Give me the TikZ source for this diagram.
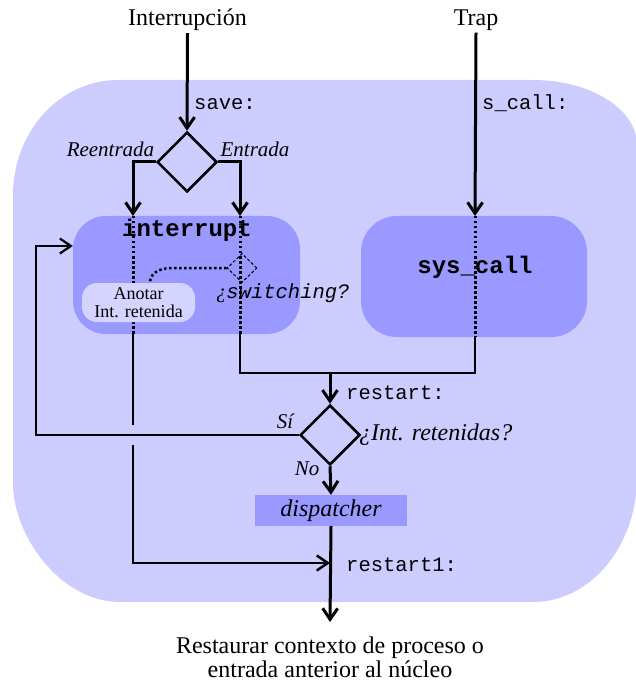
\documentclass[tikz,border=0pt]{standalone}
\usepackage{fontspec}
\setmainfont{Liberation Serif}
\setmonofont{Liberation Mono}
\usetikzlibrary{arrows.meta,shapes.geometric}
\definecolor{bgc}{HTML}{CCCCFF}
\definecolor{boxc}{HTML}{9999FF}
\definecolor{notec}{HTML}{D4D4FF}
\tikzset{
  lab/.style={font=\fontsize{24}{25}\selectfont, inner sep=2pt},
  code/.style={font=\ttfamily\fontsize{20.5}{22}\selectfont, anchor=west, inner sep=0pt},
  tag/.style={font=\itshape\fontsize{21}{22}\selectfont, inner sep=0pt},
  block/.style={fill=boxc, inner sep=0pt, rounded corners=33pt},
  boxtxt/.style={font=\ttfamily\bfseries\fontsize{24}{26}\selectfont, inner sep=0pt},
  dec/.style={diamond, draw, line width=2.5pt, minimum width=60pt, minimum height=60pt, inner sep=0pt},
  flow/.style={line width=3pt, -{Straight Barb[length=11pt,width=15pt]}},
  wire/.style={line width=2.5pt},
  dotwire/.style={line width=3pt, dash pattern=on 2.5pt off 2.5pt}
}
\begin{document}
\begin{tikzpicture}[x=1pt,y=-1pt]
\useasboundingbox (0,0) rectangle (635,684);

% kernel area
\fill[bgc] (118,80) -- (533,80)
  .. controls (590.4,80) and (637,109.1) .. (637,145) -- (637,477)
  .. controls (637,546) and (590.4,602) .. (533,602) -- (120,602)
  .. controls (60.9,602) and (13,536.3) .. (13,483) -- (13,195)
  .. controls (13,131.5) and (60,80) .. cycle;

% routine blocks
\node[block, minimum width=227pt, minimum height=118pt] (intbox) at (186.5,275) {};
\node[block, minimum width=226pt, minimum height=121pt, rounded corners=36pt] (scbox) at (474,276.5) {};
\node[boxtxt] (inttxt) at (187,230) {interrupt};
\node[boxtxt] (sctxt) at (475,267) {sys\_call};

% decisions and dispatcher
\node[dec] (d1) at (187,162) {};
\node[dec] (d2) at (330,435) {};
\node[diamond, draw, line width=1pt, dash pattern=on 3pt off 2pt, minimum width=30pt, minimum height=29pt, inner sep=0pt] (sw) at (242,268) {};
\node[fill=boxc, minimum width=152pt, minimum height=31pt, inner sep=0pt, font=\itshape\fontsize{24}{25}\selectfont] (disp) at (331,510.5) {dispatcher};

% entry points and result
\node[lab] (interr) at (187.5,20) {Interrupción};
\node[lab] (trap) at (476,20) {Trap};
\node[lab, align=center, font=\fontsize{24}{24}\selectfont] (out) at (330,657) {Restaurar contexto de proceso o\\entrada anterior al núcleo};

% labels
\node[code] (save) at (194,104) {save:};
\node[code] (scall) at (482,103) {s\_call:};
\node[code] (rst) at (346,393) {restart:};
\node[code] (rst1) at (346,565) {restart1:};
\node[tag] (reent) at (110.5,149) {Reentrada};
\node[tag] (ent) at (255,149) {Entrada};
\node[tag] (si) at (285,421) {Sí};
\node[tag] (no) at (307,469) {No};
\node[tag, font=\itshape\fontsize{24}{25}\selectfont, anchor=west] (q2) at (359,435) {¿Int. retenidas?};
\node[anchor=west, inner sep=0pt, font=\ttfamily\itshape\fontsize{20.5}{22}\selectfont] (swq) at (216,293) {{\rmfamily ¿}switching?};

% waypoints
\coordinate (inL) at (133,216);
\coordinate (inR) at (240,216);
\coordinate (inLo) at (133,334);
\coordinate (inRo) at (240,334);
\coordinate (scIn) at (475,216);
\coordinate (scOut) at (475,337);
\coordinate (join) at (330,373);
\coordinate (jumpA) at (133,425);
\coordinate (jumpB) at (133,445);
\coordinate (r1) at (330,563);
\coordinate (back) at (36,246);
\coordinate (endp) at (330,622);

% flow
\draw[flow] (interr.south) -- (d1.north);
\draw[flow] (d1.west) -| (inL);
\draw[flow] (d1.east) -| (inR);
\draw[dotwire] (inL) -- (inLo);
\draw[dotwire] (inR) -- (inRo);
\draw[wire] (inLo) -- (jumpA);
\draw[flow, line width=2.5pt] (jumpB) |- (r1);
\draw[flow] (trap.south) -- (scIn);
\draw[dotwire] (scIn) -- (scOut);
\draw[wire] (scOut) |- (join) -| (inRo);
\draw[flow] (join) -- (d2.north);
\draw[flow, line width=2.2pt] (d2.west) -| (back) -- (intbox.west |- back);
\draw[flow] (d2.south) -- (disp.north);
\draw[flow] (disp.south) -- (endp);

% note inside interrupt
\node[fill=notec, rounded corners=15pt, minimum width=113pt, minimum height=39pt, inner sep=0pt, align=center, font=\fontsize{18}{18}\selectfont] (anotar) at (138.5,302.5) {Anotar\\Int. retenida};
\draw[dotwire, line width=2.5pt] (sw.west) -- (172,268) .. controls (158,268) and (150,274) .. ([xshift=11.5pt]anotar.north);
\end{tikzpicture}
\end{document}
